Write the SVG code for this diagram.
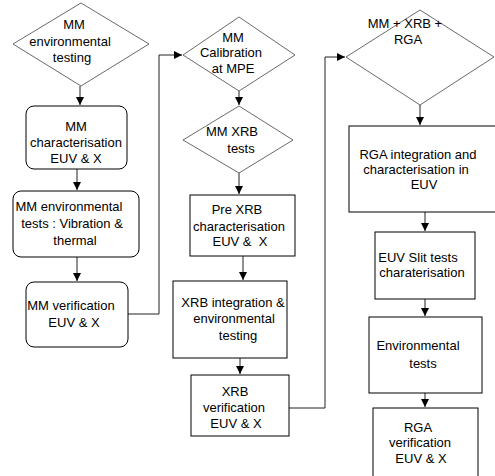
<svg xmlns="http://www.w3.org/2000/svg" width="495" height="476" viewBox="0 0 495 476">
<style>
.n{fill:#fff;stroke:#000;stroke-width:1}
.d{fill:#fff;stroke:#444;stroke-width:0.8}
.c{fill:none;stroke:#222;stroke-width:1}
text{font-family:"Liberation Sans",Arial,sans-serif;font-size:13px;fill:#000;text-anchor:middle}
</style>
<defs>
<marker id="ah" markerUnits="userSpaceOnUse" markerWidth="9" markerHeight="9" refX="8" refY="4" orient="auto">
<path d="M0,0 L8,4 L0,8 z" fill="#000"/>
</marker>
</defs>
<rect width="495" height="476" fill="#fff"/>
<g id="connectors">
<line class="c" x1="80" y1="86" x2="80" y2="105" marker-end="url(#ah)"/>
<line class="c" x1="77" y1="169" x2="77" y2="190" marker-end="url(#ah)"/>
<line class="c" x1="77" y1="257" x2="77" y2="281" marker-end="url(#ah)"/>
<polyline class="c" points="128,314 159,314 159,55 182,55" marker-end="url(#ah)"/>
<line class="c" x1="239" y1="91" x2="239" y2="105" marker-end="url(#ah)"/>
<line class="c" x1="239" y1="173" x2="239" y2="194" marker-end="url(#ah)"/>
<line class="c" x1="243" y1="256" x2="243" y2="280" marker-end="url(#ah)"/>
<line class="c" x1="240" y1="358" x2="240" y2="374" marker-end="url(#ah)"/>
<polyline class="c" points="289,408 325,408 325,57 345,57" marker-end="url(#ah)"/>
<line class="c" x1="420" y1="105" x2="420" y2="125" marker-end="url(#ah)"/>
<line class="c" x1="425" y1="212" x2="425" y2="231" marker-end="url(#ah)"/>
<line class="c" x1="425" y1="299" x2="425" y2="316" marker-end="url(#ah)"/>
<line class="c" x1="425" y1="393" x2="425" y2="407" marker-end="url(#ah)"/>
</g>
<g id="n1">
<polygon class="d" points="81,3 149,44 81,86 13,44"/>
<text x="74" y="29">MM</text>
<text x="70" y="46">environmental</text>
<text x="72" y="62">testing</text>
</g>
<g id="n2">
<rect class="n" x="26" y="106" width="101" height="63" rx="8"/>
<text x="76" y="131">MM</text>
<text x="76" y="147">characterisation</text>
<text x="76" y="163">EUV &amp; X</text>
</g>
<g id="n3">
<rect class="n" x="13" y="191" width="126" height="66" rx="8"/>
<text x="69" y="211">MM environmental</text>
<text x="72" y="228">tests : Vibration &amp;</text>
<text x="75" y="245">thermal</text>
</g>
<g id="n4">
<rect class="n" x="26" y="282" width="102" height="65" rx="8"/>
<text x="71" y="310">MM verification</text>
<text x="74" y="327">EUV &amp; X</text>
</g>
<g id="n5">
<polygon class="d" points="239,17 295,55 239,91 183,55"/>
<text x="233" y="42">MM</text>
<text x="231" y="57">Calibration</text>
<text x="233" y="73">at MPE</text>
</g>
<g id="n6">
<polygon class="d" points="239,106 293,140 239,173 183,140"/>
<text x="232" y="136">MM XRB</text>
<text x="241" y="153">tests</text>
</g>
<g id="n7">
<rect class="n" x="190" y="195" width="105" height="61"/>
<text x="237" y="214">Pre XRB</text>
<text x="239" y="231">characterisation</text>
<text x="240" y="246" xml:space="preserve">EUV &amp;  X</text>
</g>
<g id="n8">
<rect class="n" x="173" y="281" width="114" height="77"/>
<text x="233" y="307">XRB integration &amp;</text>
<text x="234" y="323">environmental</text>
<text x="238" y="340">testing</text>
</g>
<g id="n9">
<rect class="n" x="191" y="375" width="98" height="61"/>
<text x="235" y="396">XRB</text>
<text x="234" y="412">verification</text>
<text x="236" y="428">EUV &amp; X</text>
</g>
<g id="n10">
<polygon class="d" points="420,10 494,57 420,105 346,57"/>
<text x="405" y="28">MM + XRB +</text>
<text x="408" y="44">RGA</text>
</g>
<g id="n11">
<rect class="n" x="349" y="126" width="150" height="86"/>
<text x="418" y="159">RGA integration and</text>
<text x="416" y="174">characterisation in</text>
<text x="424" y="189">EUV</text>
</g>
<g id="n12">
<rect class="n" x="375" y="232" width="100" height="67"/>
<text x="418" y="262">EUV Slit tests</text>
<text x="422" y="277">charaterisation</text>
</g>
<g id="n13">
<rect class="n" x="369" y="317" width="113" height="76"/>
<text x="418" y="350">Environmental</text>
<text x="423" y="368">tests</text>
</g>
<g id="n14">
<rect class="n" x="373" y="408" width="105" height="80"/>
<text x="418" y="432">RGA</text>
<text x="420" y="447">verification</text>
<text x="421" y="463">EUV &amp; X</text>
</g>
</svg>
